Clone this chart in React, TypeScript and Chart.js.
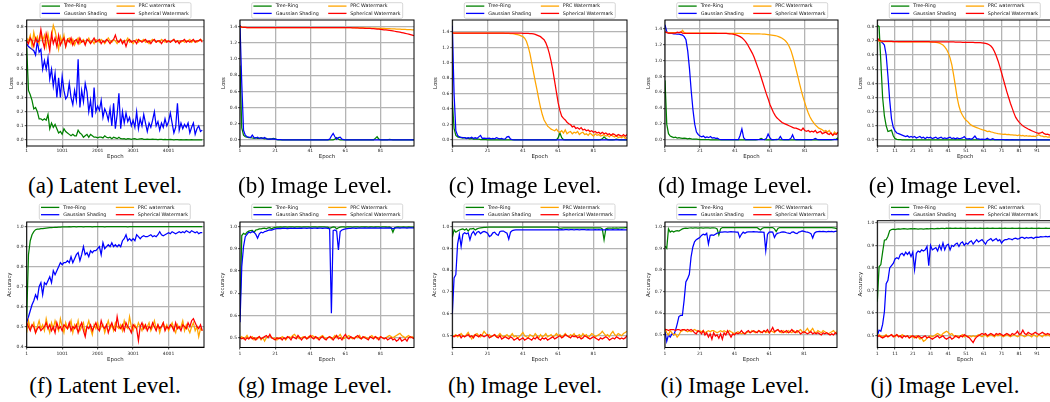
import React, { useEffect, useRef } from 'react';
import { Chart, registerables } from 'chart.js';

Chart.register(...registerables);

// ---------- x categories & ticks ----------
const LATENT_EPOCHS = Array.from({ length: 100 }, (_, i) => 1 + 50 * i);
const IMAGE_EPOCHS = Array.from({ length: 100 }, (_, i) => i + 1);
const LATENT_X_TICKS = [1, 1001, 2001, 3001, 4001];
const IMAGE_X_TICKS = [1, 21, 41, 61, 81];
const FINE_X_TICKS = [1, 11, 21, 31, 41, 51, 61, 71, 81, 91];
const LOSS_Y_TICKS_SMALL = [0, 0.1, 0.2, 0.3, 0.4, 0.5, 0.6, 0.7, 0.8];
const LOSS_Y_TICKS_LARGE = [0, 0.2, 0.4, 0.6, 0.8, 1.0, 1.2, 1.4];
const ACC_Y_TICKS_LATENT = [0.4, 0.5, 0.6, 0.7, 0.8, 0.9, 1.0];
const ACC_Y_TICKS_IMAGE = [0.5, 0.6, 0.7, 0.8, 0.9, 1.0];

const CAPTIONS = [
  '(a) Latent Level.', '(b) Image Level.', '(c) Image Level.', '(d) Image Level.', '(e) Image Level.',
  '(f) Latent Level.', '(g) Image Level.', '(h) Image Level.', '(i) Image Level.', '(j) Image Level.',
];

// ---------- (a) latent loss ----------
const A_TREE = [
  0.65,0.35,0.32,0.28,0.22,0.23,0.2,0.15,0.15,0.14,
  0.15,0.14,0.18,0.08,0.12,0.09,0.11,0.08,0.05,0.06,
  0.04,0.08,0.06,0.05,0.04,0.03,0.04,0.03,0.03,0.07,
  0.05,0.04,0.02,0.03,0.04,0.02,0.04,0.03,0.02,0.02,
  0.015,0.02,0.02,0.015,0.03,0.02,0.015,0.02,0.01,0.02,
  0.015,0.01,0.02,0.01,0.008,0.01,0.005,0.01,0.008,0.005,
  0.008,0.01,0.005,0.006,0.008,0.01,0.005,0.004,0.006,0.005,
  0.004,0.006,0.005,0.004,0.003,0.005,0.004,0.003,0.004,0.003,
  0.003,0.004,0.003,0.002,0.003,0.003,0.002,0.003,0.002,0.002,
  0.003,0.002,0.002,0.003,0.002,0.002,0.002,0.001,0.002,0.002,
];
const A_GAUSS = [
  0.68,0.66,0.65,0.64,0.63,0.6,0.7,0.62,0.64,0.5,
  0.56,0.5,0.58,0.43,0.5,0.38,0.47,0.3,0.44,0.3,
  0.45,0.35,0.29,0.31,0.4,0.3,0.25,0.35,0.28,0.57,
  0.23,0.35,0.27,0.4,0.34,0.2,0.28,0.16,0.37,0.2,
  0.24,0.21,0.28,0.16,0.22,0.19,0.14,0.22,0.1,0.26,
  0.08,0.18,0.33,0.08,0.2,0.12,0.19,0.13,0.16,0.1,
  0.14,0.09,0.2,0.08,0.15,0.1,0.18,0.12,0.06,0.12,
  0.09,0.14,0.2,0.1,0.13,0.07,0.12,0.09,0.15,0.1,
  0.13,0.19,0.12,0.05,0.09,0.26,0.07,0.12,0.08,0.11,
  0.09,0.12,0.05,0.09,0.12,0.04,0.08,0.1,0.06,0.07,
];
const A_PRC = [
  0.72,0.7,0.74,0.66,0.76,0.7,0.73,0.68,0.75,0.7,
  0.74,0.66,0.75,0.68,0.72,0.81,0.77,0.71,0.64,0.73,
  0.69,0.74,0.66,0.71,0.72,0.68,0.71,0.67,0.7,0.72,
  0.68,0.7,0.71,0.68,0.7,0.72,0.69,0.7,0.68,0.71,
  0.7,0.69,0.71,0.7,0.68,0.7,0.72,0.7,0.69,0.71,
  0.7,0.68,0.7,0.71,0.69,0.7,0.7,0.72,0.69,0.7,
  0.68,0.7,0.71,0.69,0.7,0.7,0.71,0.69,0.7,0.68,
  0.7,0.71,0.7,0.69,0.7,0.69,0.71,0.7,0.69,0.7,
  0.7,0.69,0.7,0.71,0.69,0.7,0.7,0.69,0.7,0.69,
  0.7,0.7,0.71,0.69,0.7,0.7,0.69,0.7,0.71,0.7,
];
const A_SPH = [
  0.7,0.68,0.72,0.7,0.66,0.72,0.69,0.7,0.78,0.7,
  0.65,0.75,0.7,0.63,0.75,0.68,0.72,0.66,0.74,0.67,
  0.7,0.72,0.66,0.71,0.69,0.72,0.67,0.7,0.71,0.68,
  0.72,0.69,0.7,0.67,0.71,0.7,0.68,0.7,0.72,0.69,
  0.7,0.71,0.68,0.7,0.69,0.71,0.7,0.68,0.7,0.71,
  0.74,0.7,0.69,0.71,0.68,0.7,0.66,0.7,0.71,0.69,
  0.7,0.7,0.68,0.71,0.7,0.69,0.7,0.71,0.69,0.7,
  0.68,0.7,0.71,0.69,0.7,0.7,0.68,0.7,0.71,0.69,
  0.7,0.69,0.7,0.71,0.69,0.7,0.68,0.7,0.7,0.71,
  0.69,0.7,0.69,0.7,0.71,0.69,0.7,0.7,0.71,0.69,
];

// ---------- (b) image loss ----------
const B_TREE = [
  0.92,0.15,0.06,0.04,0.035,0.03,0.03,0.025,0.02,0.03,
  0.02,0.02,0.03,0.02,0.015,0.02,0.01,0.01,0.015,0.02,
  0.015,0.005,0.003,0.003,0.003,0.002,0.003,0.002,0.003,0.002,
  0.002,0.003,0.002,0.002,0.003,0.002,0.002,0.002,0.003,0.002,
  0.002,0.002,0.003,0.002,0.002,0.002,0.002,0.003,0.002,0.002,
  0.002,0.003,0.002,0.002,0.01,0.03,0.01,0.003,0.002,0.002,
  0.002,0.002,0.002,0.003,0.002,0.002,0.002,0.002,0.002,0.002,
  0.002,0.002,0.002,0.002,0.002,0.002,0.003,0.02,0.04,0.01,
  0.003,0.002,0.002,0.002,0.003,0.008,0.006,0.002,0.002,0.002,
  0.002,0.002,0.002,0.002,0.002,0.002,0.002,0.002,0.002,0.002,
];
const B_GAUSS = [
  1.42,0.7,0.12,0.06,0.04,0.035,0.03,0.06,0.03,0.025,
  0.035,0.02,0.025,0.02,0.03,0.015,0.01,0.015,0.01,0.015,
  0.01,0.005,0.004,0.004,0.003,0.003,0.003,0.003,0.003,0.003,
  0.003,0.003,0.003,0.003,0.003,0.003,0.003,0.003,0.003,0.003,
  0.003,0.003,0.003,0.003,0.003,0.003,0.003,0.003,0.003,0.003,
  0.003,0.01,0.05,0.08,0.04,0.01,0.03,0.035,0.01,0.005,
  0.003,0.003,0.003,0.003,0.003,0.003,0.003,0.003,0.003,0.003,
  0.003,0.003,0.003,0.003,0.003,0.003,0.003,0.003,0.003,0.003,
  0.003,0.003,0.003,0.003,0.003,0.003,0.003,0.003,0.003,0.003,
  0.003,0.003,0.003,0.003,0.003,0.003,0.003,0.003,0.003,0.003,
];
const B_PRC = [
  1.4,1.392,1.391,1.391,1.39,1.39,1.39,1.39,1.39,1.39,
  1.39,1.39,1.39,1.39,1.39,1.39,1.39,1.39,1.39,1.39,
  1.39,1.39,1.39,1.39,1.39,1.39,1.39,1.39,1.39,1.39,
  1.39,1.39,1.39,1.39,1.39,1.39,1.39,1.39,1.39,1.39,
  1.39,1.39,1.39,1.39,1.39,1.39,1.39,1.39,1.39,1.39,
  1.39,1.39,1.39,1.39,1.39,1.39,1.39,1.39,1.39,1.39,
  1.389,1.389,1.389,1.388,1.388,1.388,1.387,1.387,1.386,1.386,
  1.385,1.385,1.384,1.384,1.383,1.383,1.382,1.382,1.381,1.381,
  1.38,1.379,1.378,1.377,1.376,1.375,1.374,1.373,1.372,1.371,
  1.37,1.369,1.368,1.367,1.366,1.365,1.364,1.363,1.362,1.36,
];
const B_SPH = [
  1.405,1.395,1.392,1.391,1.39,1.39,1.39,1.39,1.39,1.39,
  1.39,1.39,1.39,1.39,1.39,1.39,1.39,1.39,1.39,1.39,
  1.39,1.39,1.39,1.39,1.39,1.39,1.39,1.39,1.39,1.39,
  1.39,1.39,1.39,1.39,1.39,1.39,1.39,1.39,1.39,1.39,
  1.39,1.39,1.39,1.39,1.39,1.39,1.39,1.39,1.39,1.39,
  1.39,1.39,1.39,1.39,1.39,1.39,1.39,1.39,1.39,1.39,
  1.389,1.389,1.388,1.388,1.387,1.387,1.386,1.385,1.384,1.383,
  1.382,1.381,1.38,1.379,1.378,1.376,1.375,1.373,1.371,1.369,
  1.367,1.365,1.362,1.36,1.357,1.354,1.351,1.348,1.344,1.34,
  1.336,1.332,1.328,1.323,1.318,1.313,1.308,1.302,1.296,1.29,
];

// ---------- (c) image loss ----------
const C_TREE = [
  0.5,0.15,0.06,0.04,0.035,0.03,0.025,0.03,0.02,0.02,
  0.015,0.02,0.01,0.015,0.01,0.01,0.005,0.005,0.004,0.004,
  0.003,0.003,0.002,0.003,0.002,0.002,0.003,0.002,0.002,0.002,
  0.002,0.002,0.002,0.002,0.002,0.002,0.002,0.002,0.002,0.002,
  0.002,0.002,0.002,0.002,0.002,0.002,0.002,0.002,0.002,0.002,
  0.002,0.002,0.002,0.002,0.002,0.002,0.002,0.002,0.002,0.002,
  0.03,0.09,0.03,0.005,0.003,0.002,0.002,0.002,0.002,0.002,
  0.002,0.002,0.002,0.002,0.002,0.002,0.002,0.002,0.002,0.002,
  0.002,0.002,0.002,0.003,0.005,0.015,0.04,0.02,0.005,0.003,
  0.002,0.003,0.005,0.01,0.005,0.002,0.002,0.002,0.002,0.002,
];
const C_GAUSS = [
  1.48,0.6,0.12,0.06,0.04,0.035,0.03,0.03,0.02,0.03,
  0.025,0.035,0.02,0.03,0.02,0.04,0.06,0.02,0.025,0.02,
  0.02,0.025,0.015,0.02,0.015,0.03,0.02,0.015,0.02,0.01,
  0.015,0.04,0.045,0.01,0.005,0.003,0.003,0.003,0.003,0.003,
  0.003,0.003,0.003,0.003,0.003,0.003,0.003,0.003,0.003,0.003,
  0.003,0.003,0.003,0.003,0.003,0.003,0.003,0.003,0.003,0.003,
  0.003,0.003,0.003,0.003,0.003,0.003,0.003,0.003,0.003,0.003,
  0.003,0.003,0.003,0.003,0.003,0.003,0.003,0.003,0.003,0.003,
  0.003,0.003,0.003,0.003,0.003,0.003,0.003,0.003,0.003,0.003,
  0.003,0.003,0.003,0.003,0.003,0.003,0.003,0.003,0.003,0.003,
];
const C_PRC = [
  1.39,1.385,1.385,1.385,1.385,1.385,1.385,1.385,1.385,1.385,
  1.385,1.385,1.385,1.385,1.385,1.385,1.385,1.385,1.385,1.385,
  1.385,1.385,1.385,1.385,1.385,1.385,1.385,1.385,1.385,1.385,
  1.384,1.383,1.382,1.38,1.378,1.375,1.37,1.365,1.36,1.35,
  1.34,1.32,1.28,1.21,1.12,1.0,0.88,0.76,0.65,0.53,
  0.42,0.33,0.26,0.22,0.18,0.16,0.14,0.13,0.12,0.14,
  0.11,0.1,0.12,0.09,0.13,0.08,0.1,0.11,0.08,0.1,
  0.09,0.11,0.07,0.09,0.1,0.07,0.08,0.06,0.09,0.07,
  0.05,0.08,0.06,0.07,0.05,0.06,0.07,0.05,0.06,0.04,
  0.07,0.05,0.04,0.06,0.03,0.04,0.03,0.05,0.02,0.03,
];
const C_SPH = [
  1.39,1.385,1.385,1.385,1.385,1.385,1.385,1.385,1.385,1.385,
  1.385,1.385,1.385,1.385,1.385,1.385,1.385,1.385,1.385,1.385,
  1.385,1.385,1.385,1.385,1.385,1.385,1.385,1.385,1.385,1.385,
  1.385,1.385,1.385,1.385,1.385,1.385,1.385,1.385,1.385,1.385,
  1.384,1.383,1.382,1.381,1.38,1.378,1.375,1.37,1.36,1.35,
  1.34,1.32,1.3,1.26,1.2,1.12,1.02,0.9,0.76,0.62,
  0.48,0.38,0.31,0.28,0.26,0.23,0.21,0.2,0.17,0.18,
  0.15,0.16,0.14,0.16,0.13,0.14,0.12,0.13,0.11,0.12,
  0.1,0.11,0.09,0.1,0.08,0.1,0.08,0.09,0.07,0.08,
  0.06,0.08,0.07,0.05,0.07,0.06,0.05,0.07,0.05,0.07,
];

// ---------- (d) image loss ----------
const D_TREE = [
  0.75,0.2,0.08,0.05,0.04,0.03,0.035,0.025,0.03,0.025,
  0.02,0.025,0.02,0.015,0.02,0.015,0.01,0.012,0.01,0.008,
  0.006,0.005,0.005,0.004,0.004,0.004,0.003,0.003,0.003,0.003,
  0.003,0.003,0.002,0.003,0.003,0.002,0.003,0.003,0.002,0.003,
  0.003,0.002,0.003,0.003,0.002,0.003,0.003,0.002,0.003,0.003,
  0.003,0.003,0.003,0.005,0.01,0.02,0.01,0.004,0.003,0.003,
  0.003,0.003,0.003,0.004,0.008,0.004,0.003,0.003,0.003,0.003,
  0.003,0.003,0.003,0.003,0.003,0.003,0.003,0.003,0.003,0.003,
  0.003,0.003,0.003,0.003,0.003,0.003,0.003,0.003,0.003,0.003,
  0.003,0.003,0.003,0.003,0.003,0.003,0.004,0.008,0.01,0.03,
];
const D_GAUSS = [
  1.45,1.36,1.345,1.34,1.34,1.335,1.335,1.33,1.33,1.325,
  1.32,1.3,1.26,1.12,0.9,0.62,0.38,0.2,0.1,0.07,
  0.05,0.04,0.05,0.03,0.04,0.03,0.045,0.025,0.03,0.02,
  0.025,0.01,0.005,0.005,0.004,0.004,0.004,0.004,0.004,0.004,
  0.004,0.004,0.004,0.06,0.14,0.03,0.005,0.004,0.004,0.004,
  0.004,0.004,0.004,0.004,0.004,0.004,0.004,0.005,0.02,0.075,
  0.03,0.005,0.004,0.004,0.005,0.01,0.045,0.008,0.004,0.004,
  0.004,0.005,0.02,0.065,0.01,0.004,0.004,0.004,0.004,0.004,
  0.004,0.004,0.004,0.004,0.005,0.01,0.02,0.008,0.004,0.004,
  0.004,0.004,0.004,0.004,0.004,0.004,0.004,0.004,0.004,0.004,
];
const D_PRC = [
  1.36,1.355,1.35,1.35,1.35,1.35,1.35,1.35,1.35,1.35,
  1.38,1.35,1.345,1.345,1.345,1.345,1.345,1.345,1.345,1.345,
  1.345,1.345,1.345,1.345,1.345,1.345,1.345,1.345,1.345,1.345,
  1.34,1.34,1.34,1.34,1.34,1.34,1.34,1.34,1.34,1.34,
  1.34,1.34,1.34,1.34,1.34,1.338,1.338,1.337,1.337,1.336,
  1.336,1.335,1.335,1.334,1.334,1.333,1.332,1.33,1.328,1.326,
  1.323,1.32,1.317,1.313,1.308,1.3,1.29,1.28,1.265,1.245,
  1.22,1.18,1.13,1.06,0.98,0.89,0.8,0.71,0.62,0.54,
  0.47,0.4,0.34,0.29,0.25,0.22,0.19,0.17,0.15,0.14,
  0.13,0.11,0.12,0.1,0.12,0.08,0.06,0.1,0.08,0.09,
];
const D_SPH = [
  1.36,1.35,1.345,1.345,1.345,1.345,1.345,1.355,1.35,1.36,
  1.345,1.34,1.34,1.34,1.34,1.34,1.34,1.34,1.34,1.34,
  1.34,1.34,1.34,1.34,1.34,1.34,1.34,1.34,1.34,1.34,
  1.34,1.34,1.34,1.34,1.34,1.34,1.338,1.336,1.333,1.33,
  1.325,1.318,1.31,1.3,1.285,1.265,1.24,1.21,1.17,1.13,
  1.09,1.04,0.98,0.92,0.86,0.79,0.72,0.65,0.58,0.52,
  0.45,0.4,0.35,0.31,0.28,0.26,0.24,0.22,0.21,0.2,
  0.19,0.18,0.17,0.16,0.15,0.15,0.14,0.13,0.12,0.15,
  0.12,0.11,0.12,0.1,0.11,0.1,0.12,0.09,0.1,0.11,
  0.08,0.09,0.1,0.08,0.07,0.09,0.06,0.08,0.07,0.1,
];

// ---------- (e) image loss ----------
const E_TREE = [
  0.81,0.8,0.55,0.3,0.17,0.1,0.06,0.065,0.07,0.03,
  0.01,0.005,0.003,0.003,0.002,0.002,0.002,0.002,0.002,0.002,
  0.002,0.002,0.002,0.002,0.002,0.002,0.002,0.002,0.002,0.002,
  0.002,0.002,0.002,0.002,0.002,0.002,0.002,0.002,0.002,0.002,
  0.002,0.002,0.002,0.002,0.002,0.002,0.002,0.002,0.002,0.002,
  0.002,0.002,0.002,0.002,0.002,0.002,0.002,0.002,0.002,0.002,
  0.002,0.002,0.002,0.002,0.002,0.002,0.002,0.002,0.002,0.002,
  0.002,0.002,0.002,0.002,0.002,0.002,0.002,0.002,0.002,0.002,
  0.002,0.002,0.002,0.002,0.002,0.002,0.002,0.002,0.002,0.002,
  0.002,0.002,0.002,0.002,0.002,0.002,0.002,0.002,0.002,0.002,
];
const E_GAUSS = [
  0.71,0.7,0.695,0.685,0.67,0.6,0.45,0.28,0.15,0.09,
  0.065,0.05,0.045,0.04,0.035,0.03,0.025,0.03,0.02,0.025,
  0.02,0.025,0.015,0.02,0.025,0.015,0.02,0.01,0.02,0.015,
  0.02,0.01,0.015,0.02,0.01,0.015,0.02,0.01,0.015,0.01,
  0.015,0.02,0.01,0.015,0.008,0.015,0.01,0.012,0.015,0.025,
  0.01,0.008,0.01,0.005,0.015,0.028,0.01,0.008,0.005,0.006,
  0.004,0.005,0.012,0.004,0.003,0.01,0.003,0.003,0.003,0.003,
  0.003,0.003,0.002,0.003,0.002,0.002,0.003,0.002,0.002,0.002,
  0.002,0.002,0.002,0.002,0.002,0.002,0.002,0.002,0.002,0.002,
  0.002,0.002,0.002,0.002,0.002,0.002,0.002,0.002,0.002,0.002,
];
const E_PRC = [
  0.705,0.698,0.695,0.695,0.695,0.694,0.694,0.694,0.694,0.694,
  0.694,0.694,0.693,0.693,0.693,0.693,0.693,0.693,0.693,0.693,
  0.693,0.693,0.693,0.693,0.692,0.692,0.692,0.692,0.692,0.692,
  0.692,0.691,0.69,0.689,0.687,0.684,0.678,0.67,0.658,0.64,
  0.615,0.58,0.53,0.46,0.38,0.3,0.24,0.2,0.175,0.155,
  0.14,0.13,0.115,0.105,0.098,0.093,0.088,0.083,0.078,0.073,
  0.07,0.066,0.06,0.062,0.058,0.055,0.05,0.048,0.045,0.044,
  0.042,0.04,0.041,0.038,0.04,0.036,0.037,0.034,0.035,0.032,
  0.036,0.03,0.033,0.028,0.031,0.027,0.03,0.026,0.028,0.025,
  0.032,0.038,0.03,0.027,0.022,0.025,0.02,0.023,0.02,0.018,
];
const E_SPH = [
  0.72,0.705,0.7,0.698,0.697,0.697,0.696,0.696,0.696,0.695,
  0.695,0.695,0.695,0.695,0.695,0.695,0.695,0.695,0.695,0.695,
  0.694,0.694,0.694,0.694,0.694,0.694,0.694,0.694,0.694,0.694,
  0.693,0.693,0.693,0.693,0.693,0.693,0.693,0.693,0.693,0.693,
  0.692,0.692,0.692,0.692,0.691,0.691,0.691,0.691,0.69,0.69,
  0.69,0.69,0.689,0.689,0.689,0.688,0.688,0.687,0.687,0.686,
  0.684,0.682,0.678,0.672,0.663,0.648,0.625,0.595,0.56,0.52,
  0.475,0.43,0.385,0.34,0.3,0.26,0.225,0.19,0.16,0.14,
  0.125,0.112,0.1,0.092,0.085,0.078,0.072,0.066,0.06,0.055,
  0.05,0.048,0.05,0.056,0.045,0.04,0.042,0.035,0.04,0.032,
];

// ---------- (f) latent accuracy ----------
const F_TREE = [
  0.55,0.86,0.93,0.96,0.975,0.985,0.988,0.988,0.99,0.99,
  0.992,0.993,0.994,0.995,0.995,0.996,0.997,0.997,0.998,0.998,
  0.999,0.999,0.999,0.999,1,0.999,1,1,0.999,1,
  1,1,0.999,1,1,1,1,0.999,1,1,
  1,1,1,1,0.999,1,1,1,1,1,
  1,1,1,1,1,1,1,0.999,1,1,
  1,1,1,1,1,1,1,1,1,1,
  1,1,1,1,1,1,1,1,1,1,
  1,1,1,1,1,1,1,1,1,1,
  1,1,1,1,1,1,1,1,1,1,
];
const F_GAUSS = [
  0.52,0.55,0.58,0.61,0.63,0.66,0.64,0.7,0.72,0.66,
  0.72,0.71,0.73,0.75,0.72,0.78,0.76,0.78,0.8,0.82,
  0.81,0.82,0.82,0.83,0.82,0.85,0.82,0.84,0.86,0.87,
  0.83,0.86,0.9,0.86,0.87,0.85,0.88,0.87,0.88,0.88,
  0.89,0.9,0.86,0.92,0.89,0.9,0.91,0.9,0.92,0.9,
  0.91,0.9,0.91,0.9,0.93,0.94,0.96,0.93,0.94,0.93,
  0.94,0.93,0.96,0.95,0.94,0.95,0.955,0.95,0.95,0.955,
  0.96,0.95,0.955,0.95,0.96,0.975,0.96,0.955,0.96,0.965,
  0.97,0.965,0.975,0.97,0.965,0.97,0.975,0.97,0.975,0.97,
  0.98,0.975,0.97,0.98,0.975,0.97,0.975,0.965,0.97,0.97,
];
const F_PRC = [
  0.47,0.53,0.49,0.5,0.52,0.47,0.5,0.53,0.49,0.51,
  0.48,0.54,0.5,0.47,0.52,0.49,0.53,0.5,0.48,0.54,
  0.5,0.47,0.52,0.49,0.5,0.53,0.47,0.51,0.49,0.53,
  0.48,0.5,0.52,0.47,0.5,0.53,0.49,0.46,0.51,0.49,
  0.52,0.48,0.5,0.51,0.47,0.5,0.53,0.49,0.51,0.48,
  0.52,0.5,0.49,0.51,0.48,0.53,0.5,0.49,0.55,0.5,
  0.48,0.51,0.49,0.52,0.5,0.48,0.51,0.49,0.5,0.52,
  0.48,0.5,0.53,0.49,0.51,0.47,0.5,0.52,0.49,0.51,
  0.48,0.5,0.52,0.49,0.47,0.51,0.49,0.5,0.53,0.48,
  0.51,0.49,0.47,0.5,0.52,0.48,0.5,0.45,0.49,0.48,
];
const F_SPH = [
  0.52,0.5,0.48,0.51,0.5,0.47,0.49,0.5,0.48,0.49,
  0.5,0.52,0.49,0.51,0.48,0.5,0.47,0.52,0.49,0.5,
  0.48,0.51,0.5,0.49,0.52,0.48,0.5,0.49,0.51,0.47,
  0.5,0.52,0.48,0.45,0.5,0.49,0.51,0.48,0.5,0.52,
  0.49,0.48,0.53,0.5,0.49,0.51,0.47,0.5,0.52,0.49,
  0.48,0.55,0.5,0.49,0.51,0.48,0.52,0.5,0.49,0.47,
  0.51,0.5,0.49,0.43,0.5,0.52,0.49,0.51,0.48,0.5,
  0.49,0.52,0.5,0.48,0.51,0.49,0.5,0.52,0.48,0.5,
  0.49,0.51,0.5,0.48,0.52,0.49,0.5,0.48,0.51,0.5,
  0.49,0.52,0.5,0.53,0.54,0.52,0.5,0.49,0.51,0.48,
];

// ---------- (g) image accuracy ----------
const G_TREE = [
  0.6,0.96,0.97,0.965,0.975,0.98,0.982,0.983,0.975,0.985,
  0.987,0.99,0.99,0.992,0.993,0.99,0.995,0.996,0.99,0.995,
  0.997,0.998,0.998,0.999,0.998,0.999,0.999,0.998,0.999,0.999,
  0.999,0.998,0.999,0.999,0.999,0.998,0.999,0.999,0.999,0.999,
  0.998,0.999,0.999,0.999,0.998,0.999,0.999,0.999,0.999,0.998,
  0.998,0.993,0.996,0.999,0.998,0.99,0.995,0.998,0.999,0.999,
  0.998,0.999,0.999,0.999,0.998,0.999,0.999,0.999,0.998,0.999,
  0.999,0.999,0.999,0.998,0.999,0.999,0.998,0.999,0.999,0.999,
  0.998,0.999,0.999,0.999,0.998,0.999,0.995,0.975,0.995,0.998,
  0.999,0.998,0.998,0.999,0.998,0.998,0.999,0.998,0.998,0.998,
];
const G_GAUSS = [
  0.57,0.82,0.91,0.955,0.965,0.975,0.972,0.978,0.975,0.965,
  0.948,0.968,0.975,0.972,0.978,0.98,0.983,0.985,0.984,0.988,
  0.99,0.991,0.992,0.991,0.992,0.993,0.992,0.991,0.992,0.993,
  0.992,0.993,0.992,0.992,0.993,0.992,0.993,0.993,0.992,0.993,
  0.993,0.992,0.993,0.993,0.992,0.993,0.993,0.992,0.993,0.993,
  0.992,0.99,0.61,0.982,0.985,0.98,0.895,0.978,0.985,0.988,
  0.99,0.991,0.992,0.992,0.993,0.993,0.992,0.993,0.993,0.993,
  0.993,0.994,0.993,0.993,0.994,0.993,0.993,0.994,0.993,0.993,
  0.994,0.993,0.993,0.994,0.993,0.994,0.993,0.99,0.993,0.994,
  0.994,0.993,0.994,0.994,0.994,0.993,0.994,0.994,0.994,0.995,
];
const G_PRC = [
  0.5,0.505,0.495,0.5,0.51,0.495,0.5,0.505,0.49,0.5,
  0.495,0.505,0.49,0.5,0.485,0.5,0.505,0.51,0.5,0.495,
  0.5,0.49,0.5,0.495,0.505,0.5,0.49,0.5,0.505,0.5,
  0.51,0.515,0.505,0.5,0.495,0.5,0.505,0.5,0.495,0.505,
  0.5,0.51,0.505,0.5,0.495,0.5,0.505,0.51,0.5,0.495,
  0.5,0.505,0.495,0.5,0.51,0.5,0.505,0.515,0.5,0.495,
  0.5,0.505,0.51,0.5,0.495,0.5,0.505,0.5,0.51,0.495,
  0.5,0.505,0.5,0.495,0.505,0.51,0.5,0.505,0.495,0.5,
  0.505,0.5,0.495,0.5,0.505,0.51,0.505,0.5,0.505,0.51,
  0.515,0.52,0.51,0.505,0.5,0.505,0.51,0.5,0.505,0.5,
];
const G_SPH = [
  0.5,0.495,0.5,0.49,0.5,0.495,0.505,0.495,0.5,0.49,
  0.5,0.505,0.495,0.5,0.505,0.51,0.5,0.515,0.5,0.495,
  0.49,0.5,0.495,0.5,0.49,0.5,0.495,0.505,0.5,0.49,
  0.505,0.5,0.495,0.51,0.5,0.49,0.5,0.505,0.495,0.5,
  0.51,0.5,0.495,0.505,0.5,0.49,0.5,0.505,0.495,0.49,
  0.5,0.505,0.5,0.49,0.5,0.51,0.495,0.5,0.49,0.505,
  0.515,0.5,0.495,0.505,0.5,0.495,0.505,0.51,0.5,0.495,
  0.505,0.5,0.495,0.49,0.505,0.5,0.495,0.505,0.5,0.49,
  0.505,0.5,0.495,0.5,0.49,0.495,0.5,0.49,0.495,0.485,
  0.49,0.5,0.485,0.49,0.495,0.485,0.5,0.505,0.5,0.495,
];

// ---------- (h) image accuracy ----------
const H_TREE = [
  0.95,0.985,0.975,0.98,0.985,0.988,0.99,0.985,0.99,0.98,
  0.99,0.99,0.992,0.985,0.99,0.993,0.995,0.996,0.997,0.997,
  0.998,0.998,0.998,0.998,0.998,0.998,0.998,0.998,0.998,0.998,
  0.998,0.998,0.998,0.998,0.998,0.998,0.998,0.998,0.998,0.998,
  0.998,0.998,0.998,0.998,0.998,0.998,0.998,0.998,0.998,0.998,
  0.998,0.998,0.998,0.998,0.998,0.998,0.998,0.998,0.998,0.998,
  0.997,0.992,0.994,0.995,0.995,0.995,0.995,0.995,0.995,0.995,
  0.995,0.995,0.995,0.995,0.995,0.995,0.995,0.995,0.995,0.995,
  0.995,0.995,0.995,0.995,0.995,0.99,0.94,0.99,0.993,0.994,
  0.993,0.995,0.994,0.995,0.994,0.995,0.995,0.995,0.996,0.996,
];
const H_GAUSS = [
  0.6,0.765,0.78,0.92,0.965,0.91,0.965,0.972,0.968,0.972,
  0.94,0.968,0.978,0.962,0.975,0.978,0.968,0.975,0.978,0.975,
  0.97,0.955,0.96,0.972,0.975,0.965,0.96,0.978,0.98,0.98,
  0.975,0.97,0.943,0.975,0.982,0.984,0.985,0.985,0.986,0.985,
  0.986,0.985,0.986,0.986,0.985,0.986,0.986,0.986,0.985,0.986,
  0.986,0.986,0.985,0.986,0.986,0.986,0.985,0.986,0.986,0.986,
  0.987,0.986,0.987,0.986,0.987,0.987,0.986,0.987,0.987,0.986,
  0.987,0.987,0.986,0.987,0.987,0.987,0.986,0.987,0.986,0.985,
  0.986,0.987,0.986,0.987,0.986,0.985,0.986,0.986,0.987,0.986,
  0.986,0.987,0.986,0.986,0.987,0.986,0.987,0.986,0.986,0.986,
];
const H_PRC = [
  0.495,0.5,0.505,0.495,0.5,0.51,0.5,0.495,0.505,0.515,
  0.5,0.485,0.5,0.505,0.51,0.5,0.495,0.505,0.52,0.51,
  0.5,0.505,0.495,0.5,0.505,0.495,0.5,0.51,0.5,0.495,
  0.5,0.505,0.495,0.5,0.51,0.495,0.5,0.49,0.495,0.505,
  0.515,0.5,0.495,0.49,0.505,0.5,0.495,0.51,0.5,0.49,
  0.505,0.495,0.5,0.51,0.495,0.5,0.505,0.495,0.5,0.51,
  0.5,0.505,0.495,0.5,0.51,0.5,0.495,0.505,0.5,0.51,
  0.495,0.5,0.505,0.495,0.51,0.5,0.505,0.49,0.5,0.51,
  0.505,0.495,0.5,0.505,0.51,0.52,0.51,0.5,0.505,0.495,
  0.51,0.52,0.505,0.5,0.51,0.505,0.5,0.51,0.515,0.52,
];
const H_SPH = [
  0.5,0.495,0.5,0.5,0.505,0.49,0.5,0.495,0.5,0.505,
  0.495,0.5,0.49,0.505,0.5,0.495,0.505,0.5,0.495,0.5,
  0.505,0.49,0.495,0.5,0.505,0.495,0.49,0.5,0.485,0.49,
  0.495,0.49,0.485,0.495,0.49,0.48,0.485,0.49,0.48,0.485,
  0.49,0.48,0.485,0.49,0.485,0.48,0.49,0.485,0.495,0.485,
  0.48,0.49,0.485,0.49,0.48,0.485,0.49,0.495,0.485,0.49,
  0.495,0.5,0.49,0.495,0.505,0.5,0.495,0.49,0.5,0.495,
  0.5,0.49,0.495,0.485,0.49,0.5,0.495,0.49,0.485,0.49,
  0.495,0.49,0.485,0.48,0.49,0.485,0.49,0.495,0.49,0.48,
  0.485,0.49,0.485,0.495,0.49,0.485,0.49,0.485,0.49,0.5,
];

// ---------- (i) image accuracy ----------
const I_TREE = [
  0.91,0.9,0.99,0.975,0.98,0.975,0.98,0.982,0.98,0.985,
  0.99,0.992,0.993,0.992,0.994,0.995,0.994,0.995,0.995,0.994,
  0.995,0.995,0.994,0.995,0.995,0.995,0.994,0.995,0.995,0.994,
  0.99,0.962,0.99,0.996,0.996,0.996,0.996,0.996,0.996,0.996,
  0.996,0.996,0.996,0.996,0.996,0.996,0.996,0.996,0.996,0.996,
  0.996,0.996,0.996,0.996,0.99,0.985,0.993,0.996,0.996,0.996,
  0.996,0.996,0.996,0.99,0.978,0.992,0.996,0.996,0.996,0.996,
  0.996,0.996,0.996,0.996,0.996,0.996,0.996,0.996,0.996,0.996,
  0.996,0.996,0.996,0.996,0.996,0.996,0.996,0.996,0.996,0.996,
  0.996,0.996,0.996,0.996,0.996,0.996,0.996,0.995,0.993,0.99,
];
const I_GAUSS = [
  0.515,0.47,0.5,0.49,0.505,0.5,0.52,0.55,0.585,0.59,
  0.59,0.66,0.745,0.76,0.78,0.86,0.905,0.93,0.94,0.945,
  0.95,0.96,0.965,0.962,0.97,0.92,0.96,0.962,0.96,0.965,
  0.97,0.972,0.975,0.975,0.976,0.976,0.975,0.976,0.977,0.976,
  0.976,0.975,0.975,0.95,0.965,0.975,0.97,0.975,0.976,0.976,
  0.976,0.977,0.976,0.976,0.975,0.976,0.975,0.974,0.89,0.965,
  0.975,0.976,0.975,0.95,0.965,0.97,0.972,0.975,0.976,0.975,
  0.972,0.97,0.968,0.975,0.976,0.97,0.968,0.975,0.977,0.98,
  0.978,0.976,0.975,0.972,0.968,0.948,0.97,0.976,0.977,0.978,
  0.977,0.978,0.977,0.976,0.978,0.977,0.978,0.976,0.978,0.98,
];
const I_PRC = [
  0.53,0.51,0.5,0.52,0.51,0.5,0.505,0.49,0.5,0.515,
  0.52,0.525,0.52,0.515,0.52,0.515,0.52,0.525,0.52,0.515,
  0.52,0.515,0.52,0.51,0.515,0.52,0.515,0.52,0.52,0.515,
  0.51,0.515,0.52,0.515,0.52,0.515,0.51,0.52,0.515,0.51,
  0.505,0.51,0.515,0.51,0.505,0.51,0.505,0.51,0.515,0.51,
  0.52,0.515,0.51,0.515,0.52,0.51,0.515,0.52,0.51,0.515,
  0.51,0.52,0.515,0.51,0.52,0.525,0.515,0.51,0.52,0.515,
  0.51,0.52,0.515,0.51,0.52,0.515,0.51,0.52,0.525,0.515,
  0.51,0.52,0.53,0.515,0.52,0.53,0.515,0.51,0.52,0.515,
  0.51,0.52,0.515,0.51,0.505,0.51,0.515,0.52,0.51,0.515,
];
const I_SPH = [
  0.525,0.525,0.52,0.525,0.525,0.525,0.52,0.525,0.525,0.52,
  0.525,0.525,0.52,0.525,0.52,0.525,0.52,0.51,0.505,0.52,
  0.515,0.505,0.52,0.5,0.51,0.49,0.505,0.48,0.51,0.495,
  0.5,0.485,0.505,0.48,0.51,0.5,0.52,0.505,0.49,0.505,
  0.5,0.51,0.505,0.51,0.52,0.51,0.505,0.515,0.52,0.51,
  0.515,0.52,0.515,0.51,0.52,0.515,0.51,0.52,0.515,0.525,
  0.51,0.52,0.535,0.515,0.52,0.525,0.515,0.52,0.51,0.515,
  0.52,0.51,0.515,0.525,0.515,0.51,0.52,0.515,0.505,0.51,
  0.515,0.51,0.505,0.51,0.515,0.505,0.51,0.505,0.51,0.505,
  0.5,0.51,0.505,0.51,0.505,0.5,0.505,0.5,0.51,0.505,
];

// ---------- (j) image accuracy ----------
const J_TREE = [
  0.65,0.805,0.815,0.87,0.923,0.925,0.94,0.965,0.97,0.972,
  0.97,0.972,0.973,0.972,0.973,0.974,0.973,0.972,0.973,0.974,
  0.973,0.974,0.973,0.972,0.973,0.973,0.972,0.973,0.974,0.973,
  0.974,0.974,0.973,0.974,0.975,0.974,0.975,0.975,0.974,0.976,
  0.975,0.976,0.975,0.975,0.976,0.975,0.975,0.976,0.975,0.975,
  0.975,0.976,0.975,0.975,0.975,0.976,0.975,0.975,0.976,0.975,
  0.975,0.975,0.976,0.975,0.975,0.976,0.975,0.975,0.975,0.976,
  0.975,0.975,0.976,0.975,0.975,0.975,0.976,0.975,0.975,0.975,
  0.976,0.975,0.975,0.975,0.976,0.975,0.975,0.976,0.975,0.975,
  0.975,0.976,0.975,0.975,0.975,0.976,0.975,0.975,0.976,0.975,
];
const J_GAUSS = [
  0.5,0.525,0.52,0.55,0.606,0.73,0.745,0.8,0.81,0.82,
  0.84,0.845,0.84,0.86,0.865,0.855,0.87,0.86,0.87,0.85,
  0.87,0.793,0.865,0.875,0.87,0.88,0.875,0.88,0.895,0.81,
  0.9,0.88,0.885,0.89,0.875,0.9,0.88,0.91,0.88,0.9,
  0.905,0.88,0.9,0.895,0.905,0.91,0.895,0.91,0.915,0.9,
  0.91,0.905,0.915,0.92,0.905,0.915,0.925,0.915,0.92,0.925,
  0.915,0.905,0.92,0.925,0.93,0.92,0.925,0.93,0.92,0.925,
  0.91,0.92,0.925,0.925,0.93,0.928,0.925,0.93,0.932,0.928,
  0.93,0.935,0.935,0.93,0.935,0.932,0.934,0.935,0.93,0.935,
  0.936,0.935,0.938,0.937,0.938,0.94,0.938,0.94,0.939,0.94,
];
const J_PRC = [
  0.5,0.505,0.5,0.495,0.5,0.505,0.495,0.5,0.505,0.5,
  0.495,0.505,0.5,0.495,0.505,0.5,0.495,0.5,0.49,0.5,
  0.495,0.49,0.5,0.495,0.485,0.49,0.475,0.48,0.49,0.495,
  0.5,0.495,0.5,0.505,0.51,0.505,0.5,0.51,0.515,0.52,
  0.515,0.505,0.51,0.5,0.495,0.5,0.495,0.5,0.505,0.495,
  0.5,0.495,0.5,0.495,0.5,0.495,0.5,0.505,0.5,0.495,
  0.5,0.505,0.495,0.5,0.505,0.5,0.495,0.505,0.5,0.505,
  0.5,0.495,0.5,0.505,0.5,0.495,0.5,0.505,0.5,0.495,
  0.5,0.505,0.5,0.495,0.5,0.505,0.5,0.495,0.505,0.5,
  0.495,0.505,0.5,0.495,0.505,0.5,0.505,0.5,0.495,0.5,
];
const J_SPH = [
  0.495,0.5,0.495,0.49,0.495,0.5,0.495,0.5,0.505,0.495,
  0.5,0.505,0.495,0.5,0.49,0.5,0.495,0.5,0.49,0.495,
  0.5,0.495,0.49,0.5,0.495,0.49,0.495,0.5,0.49,0.495,
  0.49,0.485,0.49,0.495,0.5,0.49,0.495,0.5,0.49,0.485,
  0.49,0.495,0.485,0.49,0.5,0.495,0.49,0.5,0.495,0.505,
  0.5,0.495,0.49,0.48,0.47,0.485,0.495,0.5,0.505,0.51,
  0.505,0.51,0.5,0.505,0.51,0.505,0.5,0.51,0.505,0.51,
  0.505,0.5,0.505,0.51,0.505,0.5,0.51,0.505,0.51,0.52,
  0.505,0.51,0.525,0.51,0.505,0.515,0.51,0.505,0.51,0.515,
  0.51,0.505,0.51,0.515,0.51,0.505,0.51,0.505,0.51,0.505,
];

// ---------- styling / layout ----------
const COLORS = { tree: '#008000', gauss: '#0000ff', prc: '#ffa500', sph: '#ff0000' };
const FONT = '"DejaVu Sans", sans-serif';

const ROWS = [
  { top: 0, h: 162, plotTop: 20, plotBottom: 146, xTitleY: 157, legendTop: 2.7, tickPad: 0.5, captionTop: 174.4 },
  { top: 200, h: 168, plotTop: 22, plotBottom: 147.5, xTitleY: 160, legendTop: 4, tickPad: 1.2, captionTop: 374 },
];

type Panel = {
  row: number; col: number; plotL: number; plotR: number; plotTop?: number;
  yTitleX: number; legendX: number; xs: number[]; xMax: number; xTicks: number[];
  yMin: number; yMax: number; yTicks: number[]; yTitle: string; prcLabel: string;
  series: number[][];
};

const PANELS: Panel[] = [
  { row: 0, col: 0, plotL: 26.7, plotR: 203.3, yTitleX: 11.7, legendX: 40, xs: LATENT_EPOCHS, xMax: 5000, xTicks: LATENT_X_TICKS, yMin: -0.042, yMax: 0.847, yTicks: LOSS_Y_TICKS_SMALL, yTitle: 'Loss', prcLabel: 'PRC watermark', series: [A_TREE, A_GAUSS, A_PRC, A_SPH] },
  { row: 0, col: 1, plotL: 240, plotR: 414, yTitleX: 223.3, legendX: 251.7, xs: IMAGE_EPOCHS, xMax: 100, xTicks: IMAGE_X_TICKS, yMin: -0.074, yMax: 1.483, yTicks: LOSS_Y_TICKS_LARGE, yTitle: 'Loss', prcLabel: 'PRC Watermark', series: [B_TREE, B_GAUSS, B_PRC, B_SPH] },
  { row: 0, col: 2, plotL: 452.3, plotR: 627, yTitleX: 435.7, legendX: 464.3, xs: IMAGE_EPOCHS, xMax: 100, xTicks: IMAGE_X_TICKS, yMin: -0.078, yMax: 1.556, yTicks: LOSS_Y_TICKS_LARGE, yTitle: 'Loss', prcLabel: 'PRC Watermark', series: [C_TREE, C_GAUSS, C_PRC, C_SPH] },
  { row: 0, col: 3, plotL: 665, plotR: 838, yTitleX: 648.3, legendX: 676.7, xs: IMAGE_EPOCHS, xMax: 100, xTicks: IMAGE_X_TICKS, yMin: -0.075, yMax: 1.509, yTicks: LOSS_Y_TICKS_LARGE, yTitle: 'Loss', prcLabel: 'PRC Watermark', series: [D_TREE, D_GAUSS, D_PRC, D_SPH] },
  { row: 0, col: 4, plotL: 877.3, plotR: 1053, yTitleX: 860.7, legendX: 889.3, xs: IMAGE_EPOCHS, xMax: 100, xTicks: FINE_X_TICKS, yMin: -0.042, yMax: 0.847, yTicks: LOSS_Y_TICKS_SMALL, yTitle: 'Loss', prcLabel: 'PRC watermark', series: [E_TREE, E_GAUSS, E_PRC, E_SPH] },
  { row: 1, col: 0, plotL: 26.7, plotR: 203.3, yTitleX: 10, legendX: 39.3, xs: LATENT_EPOCHS, xMax: 5000, xTicks: LATENT_X_TICKS, yMin: 0.396, yMax: 1.0235, yTicks: ACC_Y_TICKS_LATENT, yTitle: 'Accuracy', prcLabel: 'PRC watermark', series: [F_TREE, F_GAUSS, F_PRC, F_SPH] },
  { row: 1, col: 1, plotL: 240, plotR: 414, yTitleX: 222.7, legendX: 251.7, xs: IMAGE_EPOCHS, xMax: 100, xTicks: IMAGE_X_TICKS, yMin: 0.456, yMax: 1.021, yTicks: ACC_Y_TICKS_IMAGE, yTitle: 'Accuracy', prcLabel: 'PRC Watermark', series: [G_TREE, G_GAUSS, G_PRC, G_SPH] },
  { row: 1, col: 2, plotL: 452.3, plotR: 627, yTitleX: 435, legendX: 464, xs: IMAGE_EPOCHS, xMax: 100, xTicks: IMAGE_X_TICKS, yMin: 0.446, yMax: 1.0216, yTicks: ACC_Y_TICKS_IMAGE, yTitle: 'Accuracy', prcLabel: 'PRC Watermark', series: [H_TREE, H_GAUSS, H_PRC, H_SPH] },
  { row: 1, col: 3, plotL: 665, plotR: 837, yTitleX: 648.3, legendX: 676.7, xs: IMAGE_EPOCHS, xMax: 100, xTicks: IMAGE_X_TICKS, yMin: 0.442, yMax: 1.0217, yTicks: ACC_Y_TICKS_IMAGE, yTitle: 'Accuracy', prcLabel: 'PRC Watermark', series: [I_TREE, I_GAUSS, I_PRC, I_SPH] },
  { row: 1, col: 4, plotL: 877.3, plotR: 1053, plotTop: 20.7, yTitleX: 860.7, legendX: 889.3, xs: IMAGE_EPOCHS, xMax: 100, xTicks: FINE_X_TICKS, yMin: 0.448, yMax: 1.009, yTicks: ACC_Y_TICKS_IMAGE, yTitle: 'Accuracy', prcLabel: 'PRC watermark', series: [J_TREE, J_GAUSS, J_PRC, J_SPH] },
];

function ChartPanel({ p }: { p: Panel }) {
  const ref = useRef<HTMLCanvasElement | null>(null);
  const row = ROWS[p.row];
  const canvasLeft = p.col * 210;
  const canvasW = Math.ceil(p.plotR - canvasLeft + 3);
  const canvasH = row.h;

  useEffect(() => {
    const canvas = ref.current;
    if (!canvas) return;
    const plotTop = p.plotTop ?? row.plotTop;
    const names = ['Tree-Ring', 'Gaussian Shading', p.prcLabel, 'Spherical Watermark'];
    const colors = [COLORS.tree, COLORS.gauss, COLORS.prc, COLORS.sph];

    const framePlugin = {
      id: 'frameAndLegend',
      afterDatasetsDraw(chart: any) {
        const { ctx, chartArea: a } = chart;
        ctx.save();
        ctx.strokeStyle = '#000';
        ctx.lineWidth = 1;
        ctx.strokeRect(a.left, a.top, a.right - a.left, a.bottom - a.top);
        ctx.restore();
      },
      afterDraw(chart: any) {
        const ctx = chart.ctx;
        const lx = p.legendX - canvasLeft;
        const ly = row.legendTop;
        const w = 151;
        const h = 15.6;
        ctx.save();
        ctx.beginPath();
        if (ctx.roundRect) ctx.roundRect(lx, ly, w, h, 1.5);
        else ctx.rect(lx, ly, w, h);
        ctx.fillStyle = 'rgba(255,255,255,0.85)';
        ctx.fill();
        ctx.strokeStyle = '#cccccc';
        ctx.lineWidth = 0.8;
        ctx.stroke();
        const slots = [
          { c: 0, r: 0 }, { c: 0, r: 1 }, { c: 1, r: 0 }, { c: 1, r: 1 },
        ];
        ctx.font = `4.8px ${FONT}`;
        ctx.textBaseline = 'middle';
        ctx.textAlign = 'left';
        slots.forEach((s, k) => {
          const y = ly + (s.r === 0 ? 3.4 : 10.7);
          const x0 = lx + (s.c === 0 ? 1.7 : 76.5);
          ctx.strokeStyle = colors[k];
          ctx.lineWidth = 1.3;
          ctx.beginPath();
          ctx.moveTo(x0, y);
          ctx.lineTo(x0 + 18.3, y);
          ctx.stroke();
          ctx.fillStyle = '#111';
          ctx.fillText(names[k], lx + (s.c === 0 ? 24 : 98.5), y);
        });
        ctx.restore();
      },
    };

    const datasets = p.series.map((ys, k) => ({
      label: names[k],
      data: p.xs.map((x, i) => ({ x, y: ys[i] })),
      borderColor: colors[k],
      backgroundColor: colors[k],
      borderWidth: 1.25,
      pointRadius: 0,
      tension: 0,
      order: 4 - k,
    }));

    const tickFont = { family: FONT, size: 4.5 };
    const titleFont = { family: FONT, size: 5.4 };
    const grid = {
      color: '#b4b4b4',
      lineWidth: 1.3,
      drawTicks: true,
      tickLength: 2,
      tickColor: '#222',
      tickWidth: 0.8,
    };

    const chart = new Chart(canvas, {
      type: 'line',
      data: { datasets },
      plugins: [framePlugin],
      options: {
        responsive: false,
        animation: false,
        events: [],
        layout: { padding: { top: plotTop, left: 0, right: 3, bottom: 0 } },
        plugins: { legend: { display: false }, tooltip: { enabled: false } },
        scales: {
          x: {
            type: 'linear',
            min: 1,
            max: p.xMax,
            afterBuildTicks: (s: any) => { s.ticks = p.xTicks.map((v) => ({ value: v })); },
            afterFit: (s: any) => { s.height = canvasH - row.plotBottom; },
            ticks: {
              autoSkip: false, maxRotation: 0, minRotation: 0, padding: row.tickPad,
              font: tickFont, color: '#222', callback: (v: any) => String(v),
            },
            grid,
            border: { display: false },
            title: {
              display: true, text: 'Epoch', font: titleFont, color: '#222',
              padding: { top: 0, bottom: canvasH - row.xTitleY - 3.24 },
            },
          },
          y: {
            type: 'linear',
            min: p.yMin,
            max: p.yMax,
            afterBuildTicks: (s: any) => { s.ticks = p.yTicks.map((v) => ({ value: v })); },
            afterFit: (s: any) => { s.width = p.plotL - canvasLeft; },
            ticks: {
              padding: 1, font: tickFont, color: '#222',
              callback: (v: any) => Number(v).toFixed(1),
            },
            grid,
            border: { display: false },
            title: {
              display: true, text: p.yTitle, font: titleFont, color: '#222',
              padding: { top: p.yTitleX - canvasLeft - 3.24, bottom: 0 },
            },
          },
        },
      } as any,
    });
    return () => chart.destroy();
  }, []);

  return (
    <canvas
      ref={ref}
      width={canvasW}
      height={canvasH}
      style={{ position: 'absolute', left: canvasLeft, top: row.top, width: canvasW, height: canvasH }}
    />
  );
}

export default function App() {
  return (
    <div style={{ position: 'absolute', left: 0, top: 0, width: 1050, height: 402, overflow: 'hidden', background: '#fff' }}>
      {PANELS.map((p, k) => (
        <ChartPanel key={k} p={p} />
      ))}
      {CAPTIONS.map((c, k) => {
        const row = ROWS[k < 5 ? 0 : 1];
        return (
          <div
            key={'cap' + k}
            style={{
              position: 'absolute', left: (k % 5) * 210, top: row.captionTop, width: 210,
              textAlign: 'center', fontFamily: '"Liberation Serif", "Times New Roman", serif',
              fontSize: 23, lineHeight: '23px', color: '#000', whiteSpace: 'nowrap',
            }}
          >
            {c}
          </div>
        );
      })}
    </div>
  );
}
